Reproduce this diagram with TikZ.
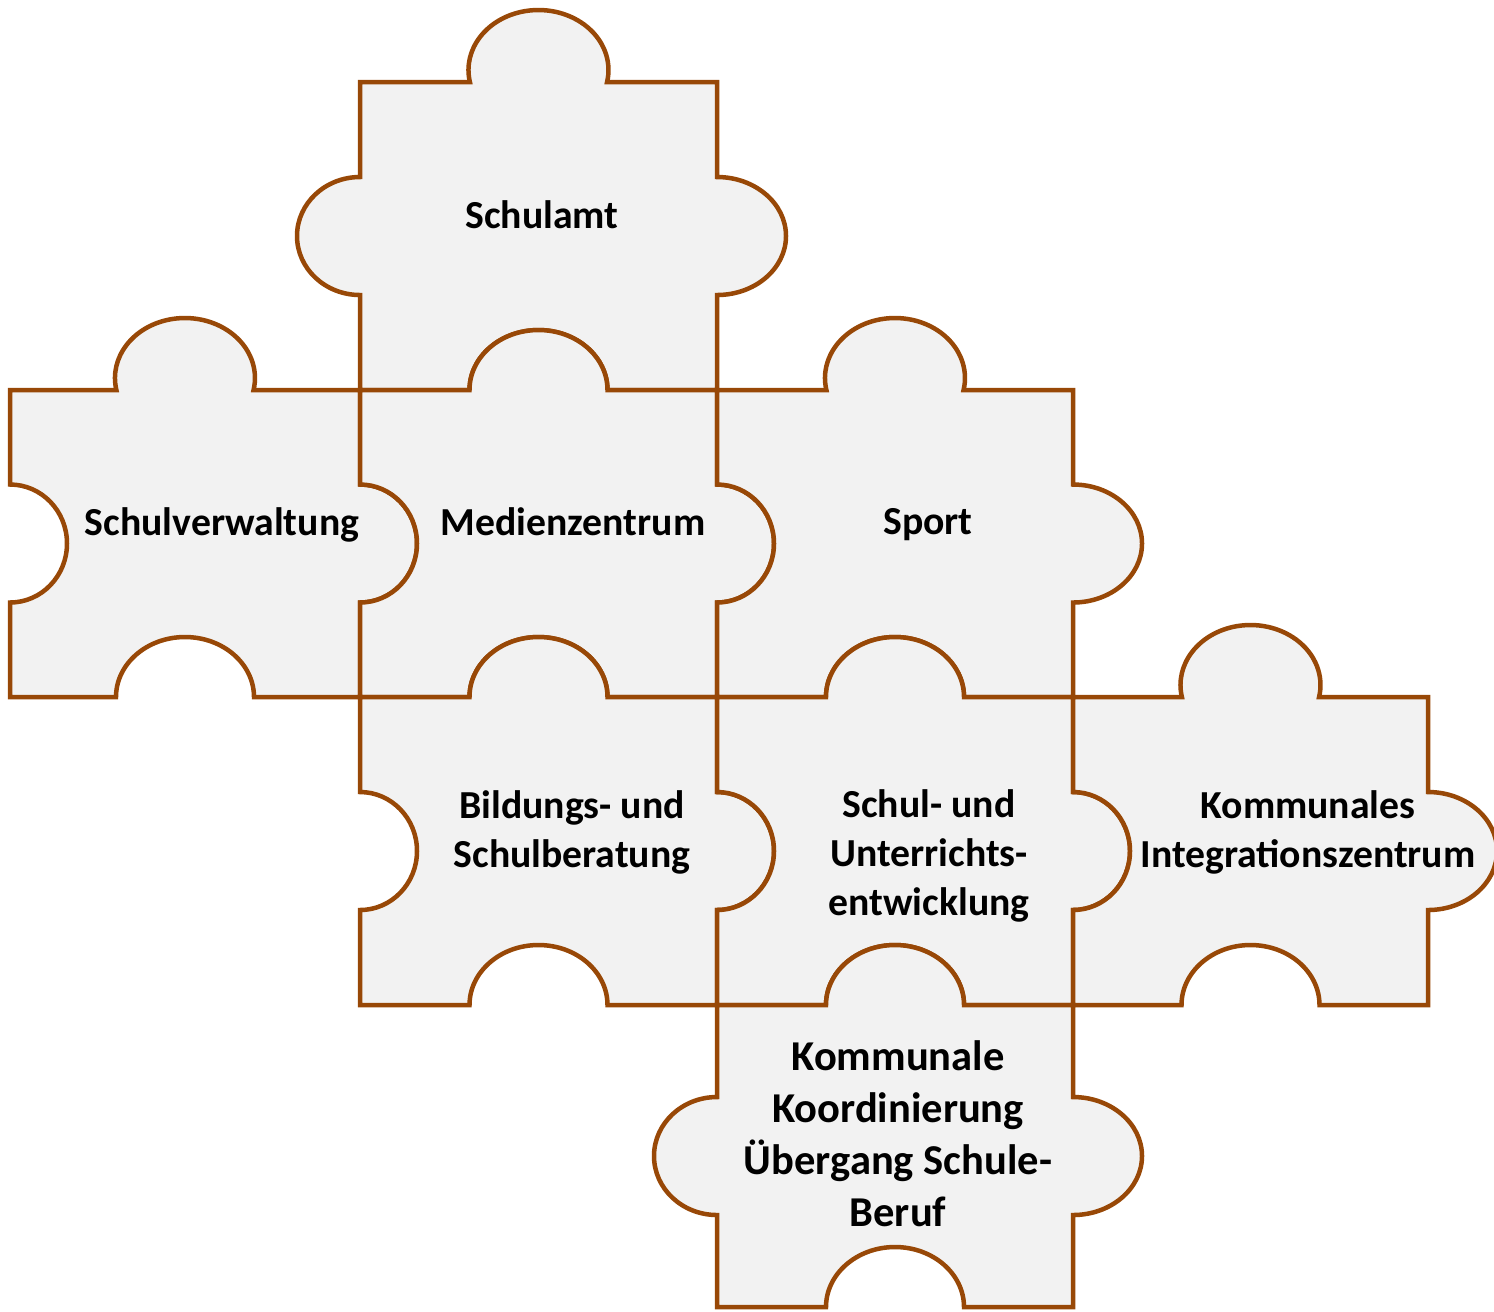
\documentclass[tikz,border=0pt]{standalone}
\usepackage{fontspec}
\setmainfont{Carlito}
\definecolor{rahmen}{HTML}{984807}
\definecolor{flaeche}{HTML}{F2F2F2}
\begin{document}
\begin{tikzpicture}[x=0.1mm,y=-0.1mm,line join=miter,
  teil/.style={draw=rahmen,fill=flaeche,line width=0.45mm},
  txt/.style={font=\bfseries\fontsize{11.3}{13.9}\selectfont,align=center,inner sep=0pt}]
\useasboundingbox (0,0) rectangle (1494,1311);
% T = freie Nase, t = eingepasste Nase, I = Loch
\def\obenT#1#2{-- ({#1-68.6},#2) arc[start angle=168.46,end angle=371.54,x radius=70,y radius=60]}
\def\obent#1#2{-- ({#1-69},#2) arc[start angle=180,end angle=360,x radius=69,y radius=60]}
\def\rechtsT#1#2{-- (#1,{#2-59}) arc[start angle=270,end angle=450,x radius=69,y radius=59]}
\def\rechtst#1#2{-- (#1,{#2-59}) arc[start angle=270,end angle=450,x radius=57,y radius=59]}
\def\untenI#1#2{-- ({#1+69},#2) arc[start angle=360,end angle=180,x radius=69,y radius=60]}
\def\linksT#1#2{-- (#1,{#2+59}) arc[start angle=90,end angle=270,x radius=63,y radius=59]}
\def\linksI#1#2{-- (#1,{#2+59}) arc[start angle=90,end angle=-90,x radius=57,y radius=59]}
\draw[teil] (360,82) \obenT{538.5}{82} -- (717,82) \rechtsT{717}{236} -- (717,390) \untenI{538.5}{390} -- (360,390) \linksT{360}{236} -- cycle;
\draw[teil] (10,390) \obenT{185}{390} -- (360,390) \rechtst{360}{543.5} -- (360,697) \untenI{185}{697} -- (10,697) \linksI{10}{543.5} -- cycle;
\draw[teil] (360,390) \obent{538.5}{390} -- (717,390) \rechtst{717}{543.5} -- (717,697) \untenI{538.5}{697} -- (360,697) \linksI{360}{543.5} -- cycle;
\draw[teil] (717,390) \obenT{895}{390} -- (1073,390) \rechtsT{1073}{543.5} -- (1073,697) \untenI{895}{697} -- (717,697) \linksI{717}{543.5} -- cycle;
\draw[teil] (360,697) \obent{538.5}{697} -- (717,697) \rechtst{717}{851} -- (717,1005) \untenI{538.5}{1005} -- (360,1005) \linksI{360}{851} -- cycle;
\draw[teil] (717,697) \obent{895}{697} -- (1073,697) \rechtst{1073}{851} -- (1073,1005) \untenI{895}{1005} -- (717,1005) \linksI{717}{851} -- cycle;
\draw[teil] (1073,697) \obenT{1250.5}{697} -- (1428,697) \rechtsT{1428}{851} -- (1428,1005) \untenI{1250.5}{1005} -- (1073,1005) \linksI{1073}{851} -- cycle;
\draw[teil] (717,1005) \obent{895}{1005} -- (1073,1005) \rechtsT{1073}{1156} -- (1073,1307) \untenI{895}{1307} -- (717,1307) \linksT{717}{1156} -- cycle;
\node[txt] (schulamt) at (542,215) {Schulamt};
\node[txt] (verwaltung) at (222,525) {Schulverwaltung};
\node[txt] (medien) at (573,522) {Medienzentrum};
\node[txt] (sport) at (928,525) {Sport};
\node[txt] (beratung) at (572,832) {Bildungs- und\\Schulberatung};
\node[txt] (entwicklung) at (929,856) {Schul- und\\Unterrichts-\\entwicklung};
\node[txt] (integration) at (1308,832) {Kommunales\\Integrationszentrum};
\node[txt,font=\bfseries\fontsize{12.1}{14.8}\selectfont] (koordinierung) at (898,1134) {Kommunale\\Koordinierung\\Übergang Schule-\\Beruf};
\end{tikzpicture}
\end{document}
